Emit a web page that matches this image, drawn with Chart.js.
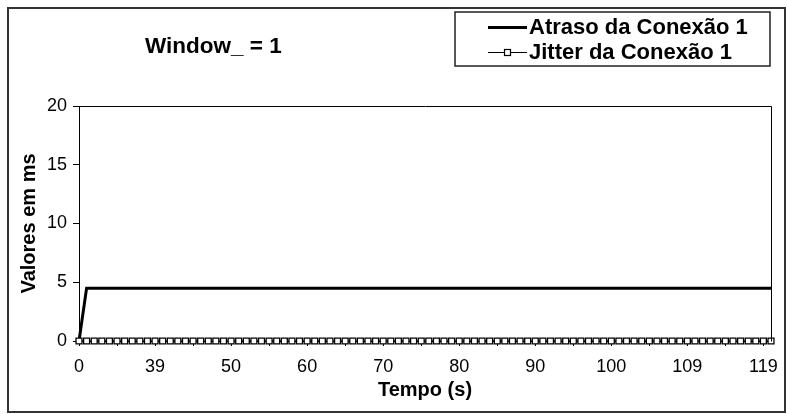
<!DOCTYPE html>
<html>
<head>
<meta charset="utf-8">
<script src="https://cdn.jsdelivr.net/npm/chart.js@4/dist/chart.umd.min.js"></script>
<style>
  html, body { margin: 0; padding: 0; background: #fff; }
  #wrap { width: 787px; height: 414px; }
</style>
</head>
<body>
<div id="wrap"><canvas id="c" width="787" height="414"></canvas></div>
<script>
// Simulation time stamps (s) for each sample
const tempo = [
  0,
  30, 31, 32, 33, 34, 35, 36, 37, 38,
  39,
  40, 41, 42, 43, 44, 45, 46, 47, 49,
  50,
  51, 52, 53, 54, 55, 56, 57, 58, 59,
  60,
  61, 62, 63, 64, 65, 66, 67, 68, 69,
  70,
  71, 72, 73, 74, 75, 76, 77, 78, 79,
  80,
  81, 82, 83, 84, 85, 86, 87, 88, 89,
  90,
  91, 92, 93, 94, 95, 96, 97, 98, 99,
  100,
  101, 102, 103, 104, 105, 105.5, 106, 107, 108,
  109,
  110, 111, 112, 113, 114, 115, 116, 117, 118,
  119,
  120
];

// Delay of connection 1 (ms)
const atraso = [
  0,
  4.5, 4.5, 4.5, 4.5, 4.5, 4.5, 4.5, 4.5, 4.5, 4.5,
  4.5, 4.5, 4.5, 4.5, 4.5, 4.5, 4.5, 4.5, 4.5, 4.5,
  4.5, 4.5, 4.5, 4.5, 4.5, 4.5, 4.5, 4.5, 4.5, 4.5,
  4.5, 4.5, 4.5, 4.5, 4.5, 4.5, 4.5, 4.5, 4.5, 4.5,
  4.5, 4.5, 4.5, 4.5, 4.5, 4.5, 4.5, 4.5, 4.5, 4.5,
  4.5, 4.5, 4.5, 4.5, 4.5, 4.5, 4.5, 4.5, 4.5, 4.5,
  4.5, 4.5, 4.5, 4.5, 4.5, 4.5, 4.5, 4.5, 4.5, 4.5,
  4.5, 4.5, 4.5, 4.5, 4.5, 4.5, 4.5, 4.5, 4.5, 4.5,
  4.5, 4.5, 4.5, 4.5, 4.5, 4.5, 4.5, 4.5, 4.5, 4.5,
  4.5
];

// Jitter of connection 1 (ms)
const jitter = [
  0,
  0, 0, 0, 0, 0, 0, 0, 0, 0, 0,
  0, 0, 0, 0, 0, 0, 0, 0, 0, 0,
  0, 0, 0, 0, 0, 0, 0, 0, 0, 0,
  0, 0, 0, 0, 0, 0, 0, 0, 0, 0,
  0, 0, 0, 0, 0, 0, 0, 0, 0, 0,
  0, 0, 0, 0, 0, 0, 0, 0, 0, 0,
  0, 0, 0, 0, 0, 0, 0, 0, 0, 0,
  0, 0, 0, 0, 0, 0, 0, 0, 0, 0,
  0, 0, 0, 0, 0, 0, 0, 0, 0, 0,
  0
];

const yMin = 0, yMax = 20, yStep = 5;
const labelEvery = 10;   // category label interval
const tickEvery = 5;     // tick-mark interval

const chartTitle = 'Window_ = 1';
const xTitle = 'Tempo (s)';
const yTitle = 'Valores em ms';
const seriesNames = ['Atraso da Conexão 1', 'Jitter da Conexão 1'];

const FONT = '"Liberation Sans", Arial, Helvetica, sans-serif';

// Frame, plot box, title and boxed legend
const decorations = {
  id: 'decorations',
  beforeDraw(chart) {
    const ctx = chart.ctx;
    ctx.save();
    ctx.fillStyle = '#ffffff';
    ctx.fillRect(0, 0, chart.width, chart.height);
    ctx.restore();
  },
  afterDraw(chart) {
    const ctx = chart.ctx;
    const a = chart.chartArea;
    ctx.save();

    // outer frame
    ctx.strokeStyle = '#333';
    ctx.lineWidth = 2;
    ctx.strokeRect(8, 8, 777, 404);

    // plot box (top and right edges)
    ctx.strokeStyle = '#000';
    ctx.lineWidth = 1;
    ctx.beginPath();
    ctx.moveTo(Math.round(a.left) + 0.5, Math.round(a.top) + 0.5);
    ctx.lineTo(Math.round(a.right) + 0.5, Math.round(a.top) + 0.5);
    ctx.lineTo(Math.round(a.right) + 0.5, Math.round(a.bottom) + 0.5);
    ctx.stroke();

    // chart title
    ctx.fillStyle = '#000';
    ctx.font = 'bold 22.5px ' + FONT;
    ctx.textBaseline = 'middle';
    ctx.textAlign = 'left';
    ctx.fillText(chartTitle, 145, 47);

    // legend box
    const lx = 455, ly = 12, lw = 315, lh = 54;
    ctx.strokeStyle = '#222';
    ctx.lineWidth = 1.5;
    ctx.strokeRect(lx, ly, lw, lh);

    const rows = [27, 52];
    chart.data.datasets.forEach((ds, i) => {
      const y = rows[i];
      ctx.strokeStyle = ds.borderColor;
      ctx.lineWidth = ds.borderWidth;
      ctx.beginPath();
      ctx.moveTo(488, y + 0.5);
      ctx.lineTo(527, y + 0.5);
      ctx.stroke();
      if (ds.pointRadius > 0) {
        ctx.fillStyle = ds.pointBackgroundColor;
        ctx.strokeStyle = ds.pointBorderColor;
        ctx.lineWidth = 1.2;
        ctx.fillRect(504.5, y - 2.5, 6, 6);
        ctx.strokeRect(504.5, y - 2.5, 6, 6);
      }
      ctx.fillStyle = '#000';
      ctx.font = 'bold 22px ' + FONT;
      ctx.textBaseline = 'middle';
      ctx.fillText(ds.label, 529, y + 1);
    });

    ctx.restore();
  }
};

new Chart(document.getElementById('c'), {
  type: 'line',
  data: {
    labels: tempo,
    datasets: [
      {
        label: seriesNames[0],
        data: atraso,
        borderColor: '#000',
        backgroundColor: '#000',
        borderWidth: 3,
        pointRadius: 0,
        tension: 0,
        clip: false,
        order: 2
      },
      {
        label: seriesNames[1],
        data: jitter,
        borderColor: '#000',
        backgroundColor: '#fff',
        borderWidth: 1,
        pointStyle: 'rect',
        pointRadius: 4.2,
        pointBackgroundColor: '#fff',
        pointBorderColor: '#000',
        pointBorderWidth: 1.3,
        tension: 0,
        clip: false,
        order: 1
      }
    ]
  },
  options: {
    responsive: false,
    animation: false,
    devicePixelRatio: 1,
    layout: { padding: { left: 0, right: 16, top: 106, bottom: 0 } },
    plugins: {
      legend: { display: false },
      title: { display: false },
      tooltip: { enabled: false }
    },
    scales: {
      x: {
        type: 'category',
        offset: false,
        grid: {
          drawOnChartArea: false,
          drawTicks: true,
          tickLength: 5,
          color: '#000'
        },
        border: { display: true, color: '#000', width: 1 },
        ticks: {
          autoSkip: false,
          maxRotation: 0,
          minRotation: 0,
          color: '#000',
          padding: 10,
          font: { family: FONT, size: 18 },
          callback: function (value, index) {
            if (index % labelEvery === 0) return String(tempo[index]);
            if (index % tickEvery === 0) return '';
            return null;
          }
        },
        title: {
          display: true,
          text: xTitle,
          color: '#000',
          font: { family: FONT, size: 20, weight: 'bold' },
          padding: { top: 0, bottom: 12 }
        },
        afterFit(scale) {
          scale.height = 73;
          scale.paddingLeft = 0;
          scale.paddingRight = 0;
        }
      },
      y: {
        min: yMin,
        max: yMax,
        grid: {
          drawOnChartArea: false,
          drawTicks: true,
          tickLength: 6,
          color: '#000'
        },
        border: { display: true, color: '#000', width: 1 },
        ticks: {
          stepSize: yStep,
          color: '#000',
          padding: 6,
          font: { family: FONT, size: 18 }
        },
        title: {
          display: true,
          text: yTitle,
          color: '#000',
          font: { family: FONT, size: 20, weight: 'bold' },
          padding: { top: 17, bottom: 0 }
        },
        afterFit(scale) {
          scale.width = 79;
          scale.paddingTop = 0;
          scale.paddingBottom = 0;
        }
      }
    }
  },
  plugins: [decorations]
});
</script>
</body>
</html>
